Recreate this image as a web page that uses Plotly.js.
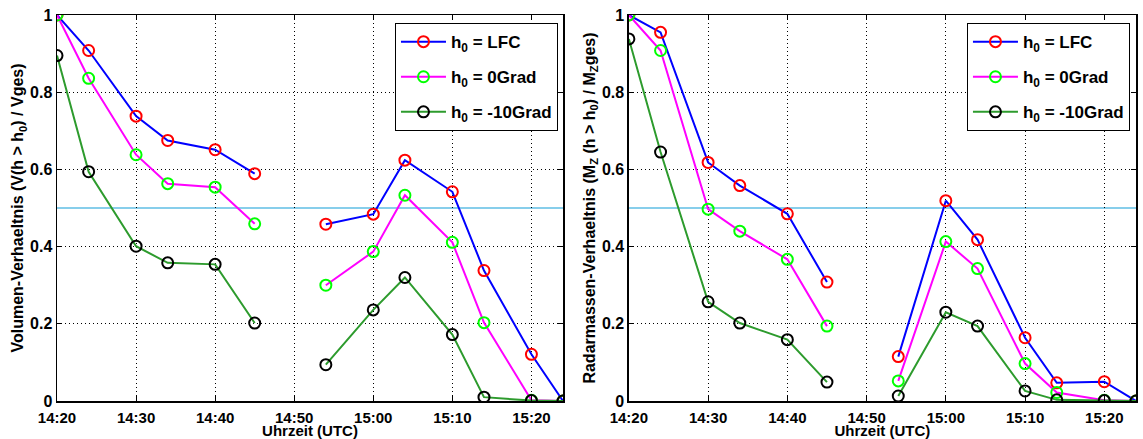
<!DOCTYPE html>
<html><head><meta charset="utf-8">
<script src="https://cdn.plot.ly/plotly-3.0.1.min.js"></script>
<style>html,body{margin:0;padding:0;background:#fff}#chart{width:1143px;height:439px}</style>
</head><body><div id="chart"></div>
<script>
// Scan times (null = data gap at 14:50)
const times = ['14:20','14:24','14:30','14:34','14:40','14:45','14:50','14:54','15:00','15:04','15:10','15:14','15:20','15:24'];
// Left panel: Volumen-Verhaeltnis
const volLFC   = [1.000,0.908,0.738,0.675,0.651,0.589,null,0.458,0.484,0.624,0.542,0.338,0.121,0.000];
const vol0     = [1.000,0.836,0.638,0.563,0.554,0.459,null,0.300,0.387,0.533,0.411,0.203,0.002,0.000];
const volM10   = [0.895,0.594,0.401,0.358,0.354,0.202,null,0.094,0.236,0.320,0.172,0.010,0.001,0.000];
// Right panel: Radarmassen-Verhaeltnis
const mzLFC    = [1.000,0.955,0.618,0.558,0.485,0.308,null,0.115,0.519,0.418,0.164,0.047,0.050,0.000];
const mz0      = [1.000,0.908,0.497,0.440,0.367,0.194,null,0.052,0.413,0.343,0.097,0.022,0.002,0.000];
const mzM10    = [0.938,0.645,0.257,0.202,0.159,0.049,null,0.013,0.230,0.194,0.026,0.003,0.001,0.000];
const seriesNames = ['h<sub>0</sub> = LFC','h<sub>0</sub> = 0Grad','h<sub>0</sub> = -10Grad'];
const yTickVals = [0,0.2,0.4,0.6,0.8,1];
const xTickLabels = ['14:20','14:30','14:40','14:50','15:00','15:10','15:20'];
const refLevel = 0.5;

const X = times.map(t => '2000-01-01 ' + t + ':00');
const lineCols = ['rgb(0,0,255)','rgb(255,0,255)','rgb(45,155,45)'];
const markCols = ['rgb(255,0,0)','rgb(0,255,0)','rgb(0,0,0)'];
const FONT = {family:'Liberation Sans, Arial, sans-serif', size:16, color:'#000', weight:'bold'};
const XFONT = {family:FONT.family, size:15, color:'#000', weight:'bold'};

function mk(y, i, xa, ya, leg){
  return {x:X, y:y, type:'scatter', mode:'lines+markers', name:seriesNames[i],
    xaxis:xa, yaxis:ya, legend:leg, legendgroup:leg+i, connectgaps:false,
    line:{color:lineCols[i], width:2},
    marker:{symbol:'circle-open', size:11, color:markCols[i], line:{width:2, color:markCols[i]}}};
}
const data = [
  mk(volLFC,0,'x','y','legend'), mk(vol0,1,'x','y','legend'), mk(volM10,2,'x','y','legend'),
  mk(mzLFC,0,'x2','y2','legend2'), mk(mz0,1,'x2','y2','legend2'), mk(mzM10,2,'x2','y2','legend2')
];
const xr = ['2000-01-01 14:20:00','2000-01-01 15:24:00'];
const tv = xTickLabels.map(t => '2000-01-01 ' + t + ':00');
function xax(dom, anchor){
  return {domain:dom, anchor:anchor, type:'date', range:xr, tickvals:tv, ticktext:xTickLabels,
    showgrid:true, gridcolor:'#000', griddash:'1px,3px', gridwidth:1,
    ticks:'inside', ticklen:5, tickcolor:'#000', mirror:'ticks', showline:true, linecolor:'#000', linewidth:1.5,
    tickfont:XFONT, ticklabelstandoff:2, title:{text:'Uhrzeit (UTC)', font:XFONT, standoff:1}, zeroline:false, fixedrange:true};
}
function yax(anchor, title){
  return {domain:[0,1], anchor:anchor, range:[0,1], tickvals:yTickVals,
    showgrid:true, gridcolor:'#000', griddash:'1px,3px', gridwidth:1,
    ticks:'inside', ticklen:5, tickcolor:'#000', mirror:'ticks', showline:true, linecolor:'#000', linewidth:1.5,
    tickfont:FONT, title:{text:title, font:FONT, standoff:2}, zeroline:false, fixedrange:true};
}
const legBase = {bordercolor:'#000', borderwidth:1, bgcolor:'#fff', font:{family:FONT.family, size:17, color:'#000', weight:'bold'},
  xanchor:'right', yanchor:'top', tracegroupgap:10, itemwidth:45};
const layout = {
  width:1143, height:439, margin:{l:57, r:7, t:15, b:38},
  paper_bgcolor:'#fff', plot_bgcolor:'#fff', font:FONT,
  xaxis: xax([0,0.469],'y'),
  yaxis: yax('x','Volumen-Verhaeltnis (V(h > h<sub>0</sub>) / Vges)'),
  xaxis2: xax([0.530,1],'y2'),
  yaxis2: yax('x2','Radarmassen-Verhaeltnis (M<sub>Z</sub> (h > h<sub>0</sub>) / M<sub>Z</sub>ges)'),
  legend: Object.assign({x:0.4643, y:0.979}, legBase),
  legend2: Object.assign({x:0.9944, y:0.979}, legBase),
  shapes:[
    {type:'line', xref:'x domain', yref:'y', x0:0, x1:1, y0:refLevel, y1:refLevel, line:{color:'rgb(135,206,235)', width:2}, layer:'below'},
    {type:'line', xref:'x2 domain', yref:'y2', x0:0, x1:1, y0:refLevel, y1:refLevel, line:{color:'rgb(135,206,235)', width:2}, layer:'below'}
  ],
  showlegend:true
};
Plotly.newPlot('chart', data, layout, {displayModeBar:false, staticPlot:true});
</script></body></html>
